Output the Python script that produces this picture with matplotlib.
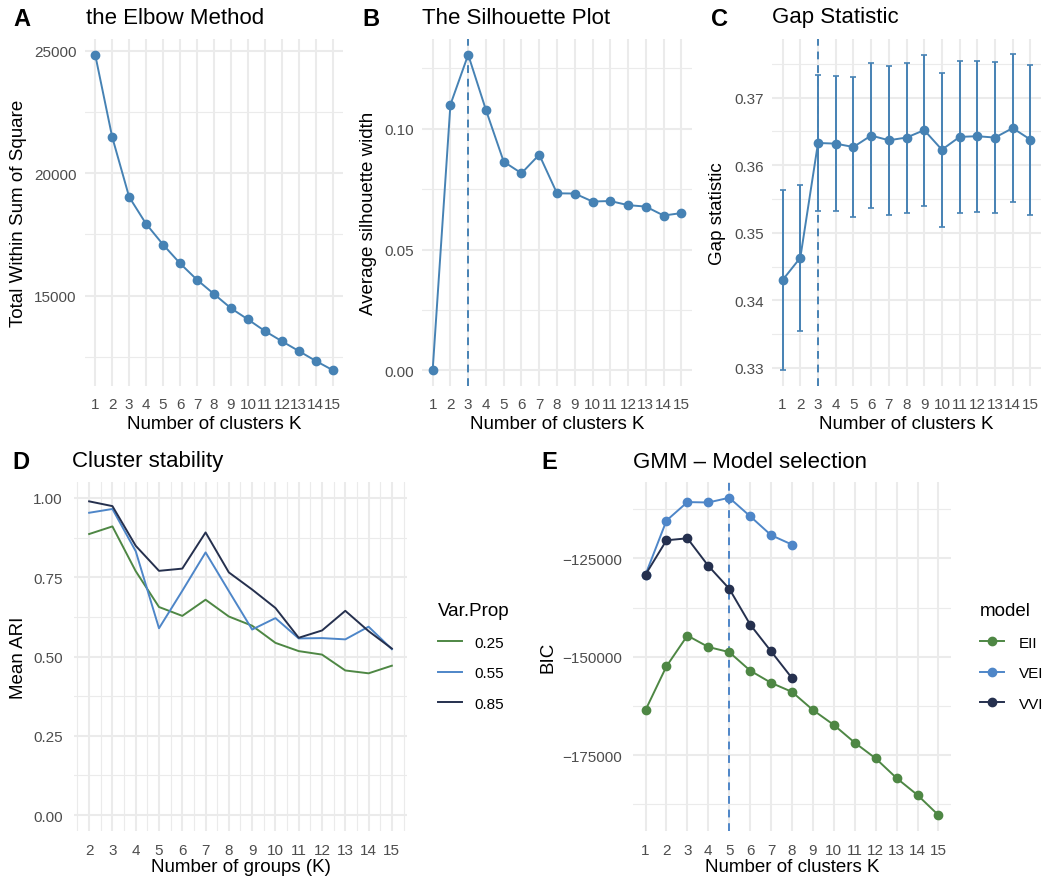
"""
Cluster number selection: elbow, silhouette, gap statistic,
cluster stability and GMM model selection panels.
"""

import matplotlib
matplotlib.use("Agg")
import matplotlib.pyplot as plt
from matplotlib.ticker import MultipleLocator, FixedLocator
import numpy as np

plt.rcParams["font.family"] = ["Liberation Sans", "DejaVu Sans"]

W, H = 1042, 879

# --- data -------------------------------------------------------------
k = np.arange(1, 16)
wss = [24830, 21480, 19030, 17930, 17085, 16320, 15650, 15070,
       14490, 14035, 13560, 13145, 12745, 12340, 11965]
sil_width = [0.0, 0.1100, 0.1307, 0.1078, 0.0864, 0.0816, 0.0893, 0.0733,
             0.0732, 0.0699, 0.0701, 0.0684, 0.0678, 0.0641, 0.0651]
gap = [0.3430, 0.3463, 0.3633, 0.3632, 0.3627, 0.3644, 0.3637, 0.3641,
       0.3652, 0.3623, 0.3642, 0.3643, 0.3641, 0.3655, 0.3638]
gap_se = [0.0134, 0.0108, 0.0101, 0.0100, 0.0103, 0.0107, 0.0110, 0.0111,
          0.0112, 0.0114, 0.0113, 0.0112, 0.0112, 0.0110, 0.0111]
best_k_sil = 3
best_k_gap = 3

groups = np.arange(2, 16)
var_props = ["0.25", "0.55", "0.85"]
ari_025 = [0.886, 0.910, 0.769, 0.656, 0.628, 0.679, 0.626, 0.597,
           0.543, 0.517, 0.506, 0.456, 0.447, 0.471]
ari_055 = [0.953, 0.965, 0.832, 0.589, 0.707, 0.828, 0.706, 0.585,
           0.621, 0.557, 0.558, 0.554, 0.594, 0.523]
ari_085 = [0.989, 0.974, 0.849, 0.770, 0.777, 0.891, 0.765, 0.711,
           0.653, 0.559, 0.582, 0.644, 0.580, 0.525]

gmm_models = ["EII", "VEI", "VVI"]
bic_eii = [-163500, -152400, -144600, -147500, -148800, -153500, -156600,
           -158900, -163500, -167300, -171800, -175800, -180800, -185100,
           -190200]
bic_vei = [-129100, -115400, -110700, -110800, -109600, -114300, -119100,
           -121500]
bic_vvi = [-129100, -120400, -119900, -126900, -132700, -141800, -148600,
           -155400]
best_k_gmm = 5

# --- style ------------------------------------------------------------
STEEL = "#4682B4"
GREEN = "#4E8744"
BLUE = "#4E86C8"
NAVY = "#25304E"
GRID = "#EBEBEB"
TICK_COL = "#4D4D4D"

fig = plt.figure(figsize=(W / 100, H / 100), dpi=100)


def add_axes_px(left, top, right, bottom):
    return fig.add_axes([left / W, 1 - bottom / H, (right - left) / W,
                         (bottom - top) / H])


def minimal_theme(ax, xpad, ypad):
    for s in ax.spines.values():
        s.set_visible(False)
    ax.set_axisbelow(True)
    ax.grid(which="major", color=GRID, lw=1.5)
    ax.grid(which="minor", color=GRID, lw=0.8)
    ax.tick_params(which="both", length=0, labelsize=11, colors=TICK_COL)
    ax.tick_params(axis="x", pad=xpad)
    ax.tick_params(axis="y", pad=ypad)


def place_labels(ax, box, xlabel, ylabel, xlab_y, ylab_x):
    left, top, right, bottom = box
    ax.set_xlabel(xlabel, fontsize=13.5)
    ax.set_ylabel(ylabel, fontsize=13.5)
    ax.xaxis.set_label_coords(0.5, -(xlab_y - bottom) / (bottom - top))
    ax.xaxis.label.set_va("center")
    ax.yaxis.set_label_coords(-(left - ylab_x) / (right - left), 0.5)
    ax.yaxis.label.set_va("center")


def header(tag, tag_x, title, title_x, y):
    fig.text(tag_x / W, 1 - y / H, tag, fontsize=17, fontweight="bold",
             va="center", ha="left")
    fig.text(title_x / W, 1 - (y - 1) / H, title, fontsize=16,
             va="center", ha="left")


def side_legend(ax, title, x, y, textpad):
    leg = ax.legend(title=title, loc="upper left",
                    bbox_to_anchor=(x / W, 1 - y / H),
                    bbox_transform=fig.transFigure, frameon=False,
                    fontsize=11, title_fontsize=13.5, handlelength=1.6,
                    handletextpad=textpad, labelspacing=1.08, borderpad=0,
                    borderaxespad=0)
    leg._legend_box.align = "left"
    leg._legend_box.sep = 12
    return leg


def factor_x(ax, n):
    ax.set_xlim(0.4, n + 0.6)
    ax.xaxis.set_major_locator(FixedLocator(list(range(1, n + 1))))


dash = (0, (4, 3))

# --- A: elbow ---------------------------------------------------------
box_a = (85, 40, 343, 387)
ax = add_axes_px(*box_a)
minimal_theme(ax, 8, 6)
ax.plot(k, wss, color=STEEL, lw=1.4, marker="o", ms=6)
factor_x(ax, 15)
ax.set_ylim(11320, 25470)
ax.yaxis.set_major_locator(MultipleLocator(5000))
ax.yaxis.set_minor_locator(MultipleLocator(2500))
place_labels(ax, box_a, "Number of clusters K", "Total Within Sum of Square",
             425, 19)
header("A", 13, "the Elbow Method", 86, 19)

# --- B: silhouette ----------------------------------------------------
box_b = (422, 40, 692, 387)
ax = add_axes_px(*box_b)
minimal_theme(ax, 8, 6)
ax.axvline(best_k_sil, color=STEEL, lw=1.4, ls=dash)
ax.plot(k, sil_width, color=STEEL, lw=1.4, marker="o", ms=6)
factor_x(ax, 15)
ax.set_ylim(-0.0065, 0.1372)
ax.yaxis.set_major_locator(MultipleLocator(0.05))
ax.yaxis.set_minor_locator(MultipleLocator(0.025))
ax.yaxis.set_major_formatter(lambda v, p: f"{v:.2f}")
place_labels(ax, box_b, "Number of clusters K", "Average silhouette width",
             425, 368)
header("B", 362, "The Silhouette Plot", 422, 19)

# --- C: gap statistic -------------------------------------------------
box_c = (772, 40, 1041, 387)
ax = add_axes_px(*box_c)
minimal_theme(ax, 8, 6)
ax.axvline(best_k_gap, color=STEEL, lw=1.4, ls=dash)
ax.errorbar(k, gap, yerr=gap_se, color=STEEL, lw=1.4, marker="o", ms=6,
            elinewidth=1.4, capsize=2, capthick=1.2)
factor_x(ax, 15)
ax.set_ylim(0.3273, 0.3787)
ax.yaxis.set_major_locator(MultipleLocator(0.01))
ax.yaxis.set_minor_locator(MultipleLocator(0.005))
ax.yaxis.set_major_formatter(lambda v, p: f"{v:.2f}")
place_labels(ax, box_c, "Number of clusters K", "Gap statistic", 425, 718)
header("C", 711, "Gap Statistic", 772, 19)

# --- D: cluster stability ---------------------------------------------
box_d = (74, 483, 407, 832)
ax = add_axes_px(*box_d)
minimal_theme(ax, 9, 8)
for vals, col, lab in zip([ari_025, ari_055, ari_085], [GREEN, BLUE, NAVY],
                          var_props):
    ax.plot(groups, vals, color=col, lw=1.4, label=lab)
ax.set_xlim(1.35, 15.65)
ax.xaxis.set_major_locator(FixedLocator(list(groups)))
ax.xaxis.set_minor_locator(MultipleLocator(0.5))
ax.set_ylim(-0.05, 1.05)
ax.yaxis.set_major_locator(MultipleLocator(0.25))
ax.yaxis.set_minor_locator(MultipleLocator(0.125))
ax.yaxis.set_major_formatter(lambda v, p: f"{v:.2f}")
place_labels(ax, box_d, "Number of groups (K)", "Mean ARI", 868, 18)
header("D", 12, "Cluster stability", 72, 463)
side_legend(ax, "Var.Prop", 438, 603, 0.75)

# --- E: GMM model selection -------------------------------------------
box_e = (633, 483, 951, 832)
ax = add_axes_px(*box_e)
minimal_theme(ax, 9, 8)
ax.axvline(best_k_gmm, color=BLUE, lw=1.4, ls=dash)
for vals, col, lab in zip([bic_eii, bic_vei, bic_vvi], [GREEN, BLUE, NAVY],
                          gmm_models):
    ax.plot(k[:len(vals)], vals, color=col, lw=1.4, marker="o", ms=6,
            label=lab)
ax.set_xlim(0.4, 15.6)
ax.xaxis.set_major_locator(FixedLocator(list(k)))
ax.set_ylim(-194230, -105600)
ax.yaxis.set_major_locator(MultipleLocator(25000))
ax.yaxis.set_minor_locator(MultipleLocator(12500))
ax.yaxis.set_major_formatter(lambda v, p: f"\u2212{abs(v):.0f}")
place_labels(ax, box_e, "Number of clusters K", "BIC", 868, 548)
header("E", 541, "GMM \u2013 Model selection", 633, 463)
side_legend(ax, "model", 980, 603, 0.95)

fig.savefig("out.png", dpi=100)
